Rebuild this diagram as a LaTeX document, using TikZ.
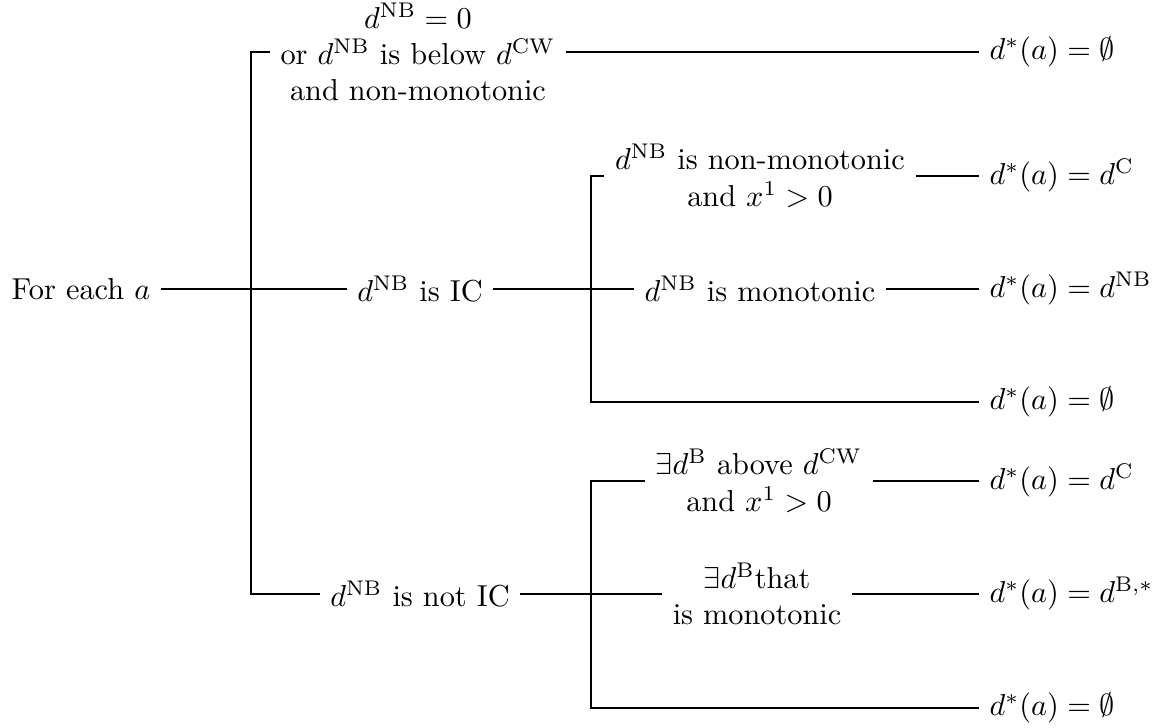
\documentclass[tikz,border=0pt]{standalone}
\begin{document}
\begin{tikzpicture}[x=0.33pt,y=-0.33pt,
  lbl/.style={align=center, inner xsep=3.33pt, inner ysep=0pt},
  res/.style={anchor=west, inner xsep=3.33pt, inner ysep=0pt},
  every path/.style={line width=0.4pt}]
\useasboundingbox (0,0) rectangle (1153,728);
% nodes
\node[lbl] (root) at (81,289) {For each $a$};
\node[lbl] (A) at (418,52) {$d^{\mathrm{NB}}=0$\\or $d^{\mathrm{NB}}$ is below $d^{\mathrm{CW}}$\\and non-monotonic};
\node[lbl] (IC) at (420,289) {$d^{\mathrm{NB}}$ is IC};
\node[lbl] (nIC) at (420,594) {$d^{\mathrm{NB}}$ is not IC};
\node[lbl] (IC1) at (760,176) {$d^{\mathrm{NB}}$ is non-monotonic\\and $x^1>0$};
\node[lbl] (IC2) at (760,289) {$d^{\mathrm{NB}}$ is monotonic};
\node[lbl] (N1) at (759,481) {$\exists d^{\mathrm{B}}$ above $d^{\mathrm{CW}}$\\and $x^1>0$};
\node[lbl] (N2) at (757,594) {$\exists d^{\mathrm{B}}$that\\is monotonic};
\node[res] (RA) at (979,52) {$d^*(a)=\emptyset$};
\node[res] (R1) at (979,176) {$d^*(a)=d^{\mathrm{C}}$};
\node[res] (R2) at (979,289) {$d^*(a)=d^{\mathrm{NB}}$};
\node[res] (R3) at (979,402) {$d^*(a)=\emptyset$};
\node[res] (R4) at (979,481) {$d^*(a)=d^{\mathrm{C}}$};
\node[res] (R5) at (979,594) {$d^*(a)=d^{\mathrm{B},*}$};
\node[res] (R6) at (979,708) {$d^*(a)=\emptyset$};
% fork coordinates
\coordinate (f1) at (251,289);
\coordinate (f2) at (591,289);
\coordinate (f3) at (591,594);
% root fork
\draw (root.east) -- (IC.west);
\draw (A.west) -| (f1) |- (nIC.west);
\draw (A.east) -- (RA.west);
% IC fork
\draw (IC.east) -- (IC2.west);
\draw (IC1.west) -| (f2) |- (R3.west);
\draw (IC1.east) -- (R1.west);
\draw (IC2.east) -- (R2.west);
% not IC fork
\draw (nIC.east) -- (N2.west);
\draw (N1.west) -| (f3) |- (R6.west);
\draw (N1.east) -- (R4.west);
\draw (N2.east) -- (R5.west);
\end{tikzpicture}
\end{document}
